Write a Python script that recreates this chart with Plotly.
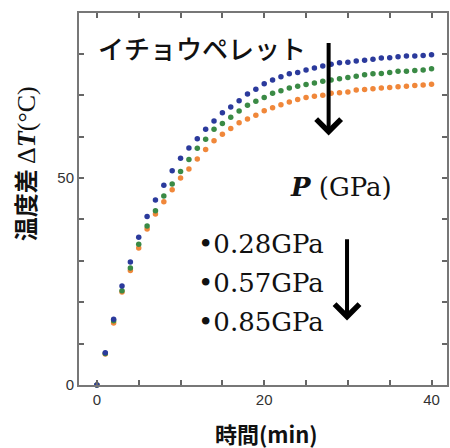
import plotly.graph_objects as go

time_min = list(range(0, 41))

dT_028 = [0, 7.8, 15.9, 23.9, 29.7, 35.7, 40.7, 44.7, 48.3, 51.8, 54.8, 57.3, 59.5, 61.8,
          63.8, 65.8, 67.2, 68.7, 70.3, 71.5, 72.8, 73.7, 74.5, 75.2, 75.5, 76.1, 76.6, 77.1,
          77.5, 77.9, 78.0, 78.3, 78.5, 78.7, 79.0, 79.1, 79.3, 79.5, 79.5, 79.6, 79.8]
dT_057 = [0, 7.6, 15.5, 22.8, 28.3, 34.0, 38.4, 42.1, 45.7, 48.6, 51.6, 54.5, 57.2, 59.4,
          61.8, 63.2, 64.7, 66.2, 67.6, 68.6, 69.5, 70.5, 71.1, 71.8, 72.2, 72.6, 73.0, 73.4,
          73.7, 74.0, 74.3, 74.6, 75.0, 75.2, 75.3, 75.5, 75.8, 75.8, 76.0, 76.1, 76.4]
dT_085 = [0, 7.5, 15.0, 22.5, 27.7, 33.1, 37.7, 41.3, 44.3, 47.2, 50.0, 52.2, 54.6, 56.9,
          59.0, 60.6, 62.0, 63.4, 64.3, 65.2, 66.3, 67.0, 67.7, 68.4, 69.0, 69.5, 69.8, 70.0,
          70.5, 70.6, 70.8, 71.3, 71.4, 71.6, 71.8, 71.9, 72.1, 72.2, 72.4, 72.5, 72.7]

series_names = ["0.28GPa", "0.57GPa", "0.85GPa"]
series_colors = ["#2b3a9c", "#3a8a45", "#f0873a"]
series_values = [dT_028, dT_057, dT_085]

fig = go.Figure()
# draw orange first so blue on top
for name, col, vals in reversed(list(zip(series_names, series_colors, series_values))):
    fig.add_trace(go.Scatter(x=time_min, y=vals, mode="markers", name=name,
                             marker=dict(size=5.5, color=col), cliponaxis=False))

serif = "DejaVu Serif"
cjk = "Noto Sans CJK JP"

annots = []
annots.append(dict(x=-0.1, y=81.5, xref="x", yref="y", text="イチョウペレット", showarrow=False,
                   xanchor="left", yanchor="middle",
                   font=dict(family=cjk, size=26, color="#111", weight=500)))
annots.append(dict(x=27.7, y=60.3, ax=27.7, ay=83.0, xref="x", yref="y", axref="x", ayref="y",
                   text="", showarrow=True, arrowhead=4, arrowwidth=4, arrowsize=1.2,
                   arrowcolor="#000", standoff=0))
annots.append(dict(x=29.9, y=15.6, ax=29.9, ay=35.6, xref="x", yref="y", axref="x", ayref="y",
                   text="", showarrow=True, arrowhead=4, arrowwidth=4, arrowsize=1.2,
                   arrowcolor="#000", standoff=0))
annots.append(dict(x=22.9, y=47.8, xref="x", yref="y",
                   text="<b><i>P</i></b> (GPa)", showarrow=False, xanchor="left", yanchor="middle",
                   font=dict(family=serif, size=26, color="#111")))
for i, nm in enumerate(series_names):
    annots.append(dict(x=11.9, y=[34.0, 24.6, 15.2][i], xref="x", yref="y",
                       text="•" + nm, showarrow=False, xanchor="left", yanchor="middle",
                       font=dict(family=serif, size=26, color="#111")))
annots.append(dict(x=24 / 450, y=1 - 164 / 448, xref="paper", yref="paper",
                   xanchor="center", yanchor="middle", textangle=-90, showarrow=False,
                   text='<b>温度差</b> <span style="font-family:Liberation Serif;font-size:26px">Δ<b><i>T</i></b>(°C)</span>',
                   font=dict(family=cjk, size=24, color="#111")))
annots.append(dict(x=268 / 450, y=1 - 433 / 448, xref="paper", yref="paper",
                   xanchor="center", yanchor="middle", showarrow=False,
                   text="<b>時間(min)</b>", font=dict(family=cjk, size=22, color="#111")))

fig.update_layout(
    width=450, height=448,
    margin=dict(l=79, r=1, t=13, b=63),
    paper_bgcolor="white", plot_bgcolor="white",
    showlegend=False,
    annotations=annots,
    xaxis=dict(range=[-2.14, 41.85], tickvals=[0, 20, 40], ticks="inside", ticklen=5,
               tickwidth=1.5, tickcolor="#666", showline=True, linecolor="#777", linewidth=2,
               mirror="ticks", showgrid=False, zeroline=False,
               minor=dict(dtick=5, ticks="inside", ticklen=5, tickcolor="#666", tickwidth=1.5),
               tickfont=dict(family="Liberation Sans", size=15, color="#333")),
    yaxis=dict(range=[0, 89.9], tickvals=[0, 50], ticks="inside", ticklen=5,
               tickwidth=1.5, tickcolor="#666", showline=True, linecolor="#777", linewidth=2,
               mirror="ticks", showgrid=False, zeroline=False,
               minor=dict(dtick=10, ticks="inside", ticklen=5, tickcolor="#666", tickwidth=1.5),
               tickfont=dict(family="Liberation Sans", size=15, color="#333")),
)

# convert paper annotations (given in full-figure fractions) to plot-area paper fractions
L, R, T, B = 79, 1, 13, 63
pw, ph = 450 - L - R, 448 - T - B
for a in fig.layout.annotations:
    if a.xref == "paper":
        px = a.x * 450
        py = (1 - a.y) * 448
        a.x = (px - L) / pw
        a.y = 1 - (py - T) / ph

fig.write_html("out.html")
